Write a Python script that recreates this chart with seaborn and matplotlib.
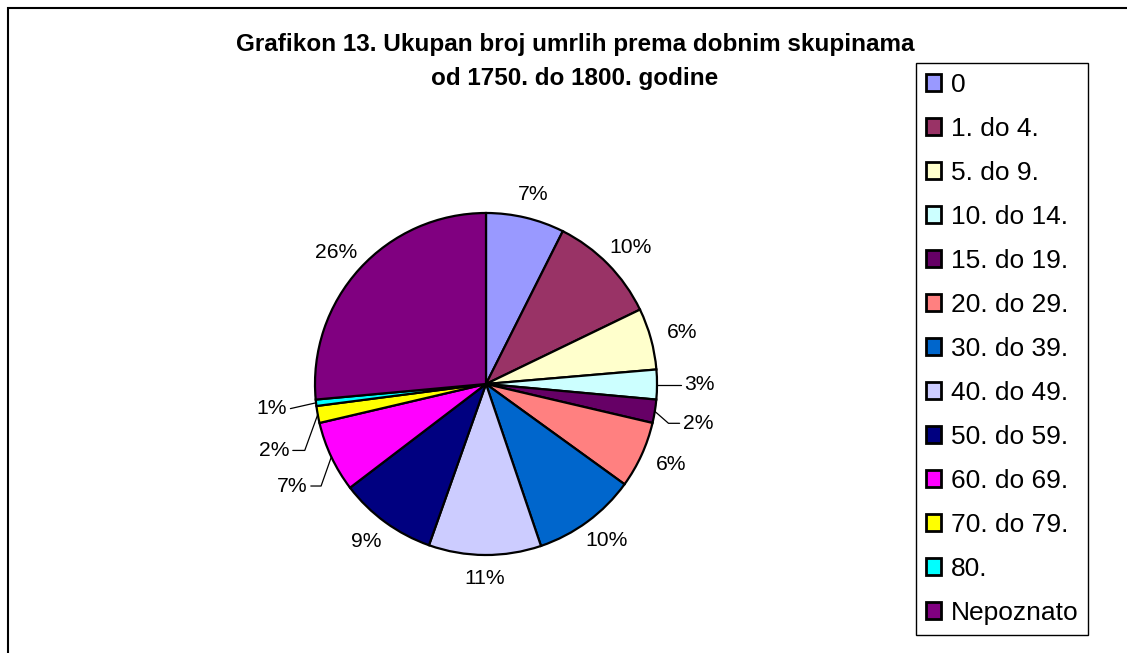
import numpy as np
import matplotlib
matplotlib.use("Agg")
import matplotlib.pyplot as plt
from matplotlib.patches import Rectangle
import seaborn as sns

# Data (share of deaths, %)
categories = ["0", "1. do 4.", "5. do 9.", "10. do 14.", "15. do 19.", "20. do 29.",
              "30. do 39.", "40. do 49.", "50. do 59.", "60. do 69.", "70. do 79.",
              "80.", "Nepoznato"]
shares = [7.4, 10.4, 5.8, 2.8, 2.2, 6.3, 9.8, 10.6, 9.2, 6.7, 1.6, 0.6, 26.4]
colors = ["#9999FF", "#993366", "#FFFFCC", "#CCFFFF", "#660066", "#FF8080",
          "#0066CC", "#CCCCFF", "#000080", "#FF00FF", "#FFFF00", "#00FFFF", "#800080"]

title_1 = "Grafikon 13. Ukupan broj umrlih prema dobnim skupinama"
title_2 = "od 1750. do 1800. godine"

# labels drawn with a leader line: index -> (dy, elbow dx, line dx)
leaders = {3: (0.0, 0.0, 0.14), 4: (-0.07, 0.08, 0.065), 9: (-0.17, 0.06, 0.06),
           10: (-0.21, 0.076, 0.07), 11: (-0.034, 0.15, 0.0)}

sns.set_theme(style="white")
plt.rcParams["font.family"] = ["Liberation Sans", "DejaVu Sans"]
plt.rcParams["text.color"] = "black"

W, H = 1127, 653
fig = plt.figure(figsize=(W / 100, H / 100), dpi=100)

# pie axes: centre (486, 384) px, radius 171 px
R = 171
cx, cy = 486, H - 384
half = 1.5 * R
ax = fig.add_axes([(cx - half) / W, (cy - half) / H, 2 * half / W, 2 * half / H])

wedges, _ = ax.pie(shares, colors=colors, startangle=90, counterclock=False,
                   wedgeprops=dict(edgecolor="black", linewidth=1.6))
ax.set_xlim(-1.5, 1.5)
ax.set_ylim(-1.5, 1.5)
ax.axis("off")

total = sum(shares)
for i, w in enumerate(wedges):
    ang = np.deg2rad((w.theta1 + w.theta2) / 2)
    ex, ey = np.cos(ang), np.sin(ang)
    txt = f"{shares[i] / total * 100:.0f}%"
    if i in leaders:
        dy, edx, ldx = leaders[i]
        s = 1 if ex > 0 else -1
        ty = ey + dy
        x1 = ex + s * edx
        x2 = x1 + s * ldx
        ax.plot([ex, x1, x2], [ey, ty, ty], color="black", lw=0.9)
        ax.text(x2 + s * 0.02, ty, txt, ha="left" if s > 0 else "right",
                va="center", fontsize=15.2)
    else:
        ax.text(ex * 1.19, ey * 1.14, txt, ha="center", va="center", fontsize=15.2)

fig.text(575 / W, 1 - 45 / H, title_1, ha="center", va="center",
         fontsize=17.5, fontweight="bold")
fig.text(575 / W, 1 - 78 / H, title_2, ha="center", va="center",
         fontsize=17.5, fontweight="bold")

leg = ax.legend(wedges, categories, loc="upper left",
                bbox_to_anchor=(916 / W, 1 - 63 / H), bbox_transform=fig.transFigure,
                fontsize=19, handlelength=0.6, handleheight=0.6,
                handletextpad=0.35, labelspacing=0.76, borderpad=0.36,
                borderaxespad=0, fancybox=False, framealpha=1)
leg.get_frame().set_edgecolor("black")
leg.get_frame().set_linewidth(1.0)
for h in leg.legend_handles:
    h.set_linewidth(2.0)

# outer chart frame (only top/left edges fall inside the picture)
fig.patches.append(Rectangle((8 / W, -0.1), 1.2, 1.1 - 8 / H, transform=fig.transFigure,
                             fill=False, edgecolor="black", linewidth=1.5))

fig.savefig("out.png", dpi=100)
